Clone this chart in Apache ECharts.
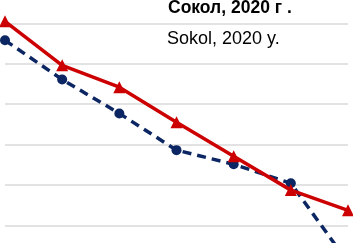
<!DOCTYPE html>
<html><head><meta charset="utf-8">
<script src="https://cdn.jsdelivr.net/npm/echarts@6/dist/echarts.min.js"></script>
<style>html,body{margin:0;padding:0;background:#fff;overflow:hidden;width:353px;height:243px}#c{position:absolute;left:0;top:-17px;width:353px;height:323px}</style>
</head><body><div id="c"></div>
<script>
const categories = ['1','2','3','4','5','6','7'];
const sokolRu = [7.05, 5.96, 5.42, 4.55, 3.71, 2.87, 2.37];
const sokolEn = [6.58, 5.61, 4.77, 3.86, 3.51, 3.04, 1.08];
const titleRu = 'Сокол, 2020 г .';
const titleEn = 'Sokol, 2020 y.';

const chart = echarts.init(document.getElementById('c'), null, {renderer:'canvas'});
chart.setOption({
  animation:false,
  backgroundColor:'#fff',
  title:[
    {text:titleRu, left:168, top:17, padding:0, textStyle:{fontFamily:'Liberation Sans, Arial, sans-serif', fontWeight:'bold', fontSize:17.5, color:'#000', lineHeight:17}},
    {text:titleEn, left:167, top:47, padding:0, textStyle:{fontFamily:'Liberation Sans, Arial, sans-serif', fontWeight:'normal', fontSize:18, color:'#000', lineHeight:18}}
  ],
  grid:{left:5, right:5, top:0, bottom:0, containLabel:false},
  xAxis:{type:'category', data:categories, boundaryGap:false, axisLine:{show:false}, axisTick:{show:false}, axisLabel:{show:false}, splitLine:{show:false}},
  yAxis:{type:'value', min:0, max:8, interval:1, axisLine:{show:false}, axisTick:{show:false}, axisLabel:{show:false},
    splitLine:{show:true, lineStyle:{color:'#d9d9d9', width:1.5}}},
  series:[
    {name:titleRu, type:'line', data:sokolRu, symbol:'triangle', symbolSize:12, z:3,
     lineStyle:{color:'#cc0000', width:3.5}, itemStyle:{color:'#cc0000'}},
    {name:titleEn, type:'line', data:sokolEn, symbol:'circle', symbolSize:10, z:2,
     lineStyle:{color:'#0b2663', width:3.5, type:[9,6]}, itemStyle:{color:'#0b2663'}}
  ]
});
</script></body></html>
